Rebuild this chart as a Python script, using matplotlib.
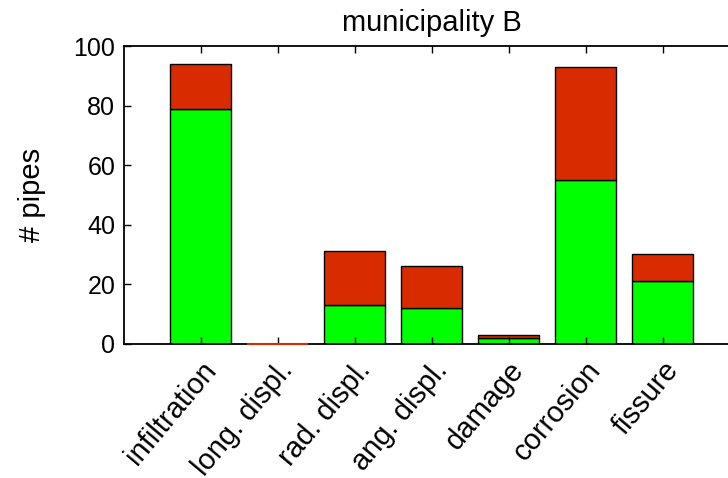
import matplotlib
matplotlib.use("Agg")
import matplotlib.pyplot as plt
import numpy as np

categories = ["infiltration", "long. displ.", "rad. displ.", "ang. displ.",
              "damage", "corrosion", "fissure"]
green_vals = [79, 0, 13, 12, 2, 55, 21]
red_vals = [15, 0, 18, 14, 1, 38, 9]
yticks = [0, 20, 40, 60, 80, 100]

plt.rcParams['font.family'] = ['Liberation Sans', 'DejaVu Sans']

fig = plt.figure(figsize=(7.28, 4.78), dpi=100)
ax = fig.add_axes([123.5 / 728, 1 - 343.7 / 478, 616 / 728, (343.7 - 46) / 478])

x = np.arange(1, len(categories) + 1)
red_col = "#D92B00"
gb = ax.bar(x, green_vals, width=0.8, color="#00FF00", edgecolor="black", linewidth=1)
rb = ax.bar(x, red_vals, width=0.8, bottom=green_vals, color=red_col,
            edgecolor="black", linewidth=1)
for g, r, gv, rv in zip(gb, rb, green_vals, red_vals):
    if gv + rv == 0:
        g.set_visible(False)
        r.set_edgecolor(red_col)
        r.set_linewidth(1.5)
        r.set_zorder(3)
        r.set_clip_on(False)

ax.set_xlim(0, 8)
ax.set_ylim(0, 100)
ax.set_yticks(yticks)
ax.set_xticks(x)
ax.set_xticklabels(categories, rotation=50, ha="right", rotation_mode="anchor",
                   fontsize=21)
ax.tick_params(axis="both", direction="in", length=5, width=1, labelsize=18,
               top=True, right=False)
ax.tick_params(axis="x", pad=9, labelsize=21)
ax.tick_params(axis="y", pad=6)
for s in ax.spines.values():
    s.set_linewidth(1.3)
ax.spines["right"].set_visible(False)

ax.set_title("municipality B", fontsize=21, pad=11)
ax.set_ylabel("# pipes", fontsize=21, labelpad=20)

fig.savefig("out.png", dpi=100)
